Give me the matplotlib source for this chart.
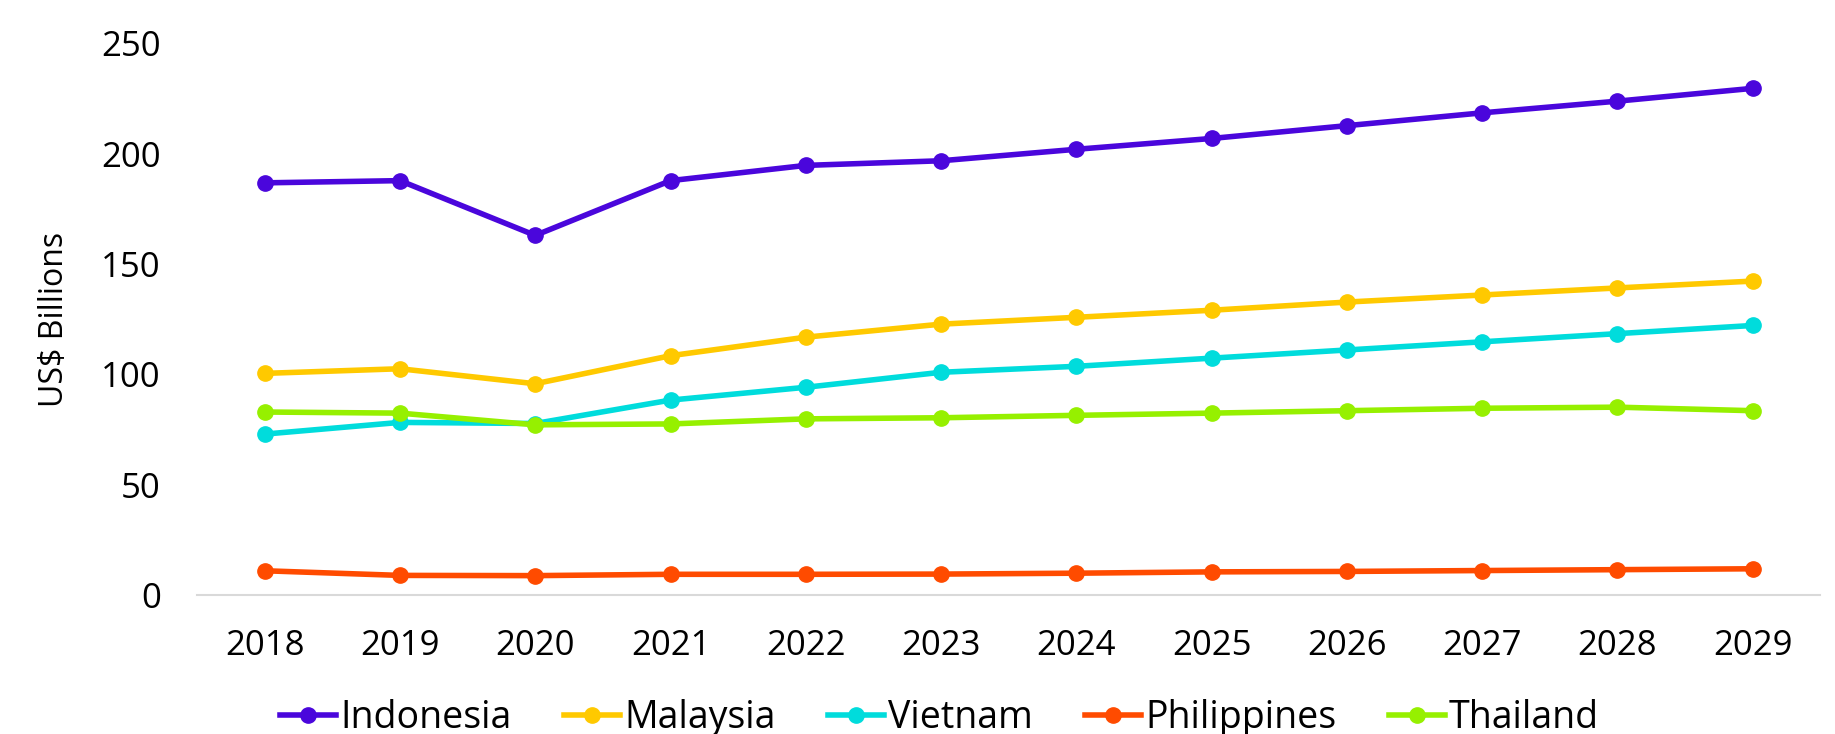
import matplotlib.pyplot as plt
import numpy as np

plt.rcParams['font.family'] = ['Open Sans', 'DejaVu Sans']

years = ['2018', '2019', '2020', '2021', '2022', '2023',
         '2024', '2025', '2026', '2027', '2028', '2029']

indonesia = [186.8, 187.8, 163.0, 187.8, 194.7, 196.8, 202.0, 206.9, 212.7, 218.5, 223.8, 229.6]
malaysia = [100.5, 102.6, 95.8, 108.5, 116.9, 122.8, 125.9, 129.1, 132.8, 136.0, 139.2, 142.3]
vietnam = [73.0, 78.3, 77.8, 88.4, 94.2, 101.0, 103.7, 107.4, 111.1, 114.8, 118.5, 122.2]
philippines = [11.1, 9.0, 8.9, 9.5, 9.5, 9.6, 10.0, 10.6, 10.8, 11.2, 11.6, 12.0]
thailand = [83.0, 82.5, 77.2, 77.6, 79.9, 80.4, 81.5, 82.5, 83.6, 84.7, 85.2, 83.6]

series = [
    ('Indonesia', indonesia, '#4a06dc'),
    ('Malaysia', malaysia, '#ffc900'),
    ('Vietnam', vietnam, '#00dcdc'),
    ('Philippines', philippines, '#ff4b00'),
    ('Thailand', thailand, '#96f000'),
]

fig = plt.figure(figsize=(18.35, 7.34), dpi=100)
ax = fig.add_axes([0.1074, 0.189, 0.8846, 0.752])

x = np.arange(len(years))
for name, vals, col in series:
    ax.plot(x, vals, color=col, lw=4, marker='o', markersize=11, label=name)

ax.set_xlim(-0.5, len(years) - 0.5)
ax.set_ylim(0, 250)
ax.set_yticks([0, 50, 100, 150, 200, 250])
ax.set_xticks(x)
ax.set_xticklabels(years)
ax.tick_params(axis='both', length=0, labelsize=25)
ax.tick_params(axis='y', pad=26)
ax.tick_params(axis='x', pad=24)
for s in ['top', 'right', 'left']:
    ax.spines[s].set_visible(False)
ax.spines['bottom'].set_color('#d9d9d9')
ax.spines['bottom'].set_linewidth(1.5)
ax.set_ylabel('US$ Billions', fontsize=23, labelpad=22)

# legend sits at the very bottom edge like the original
fig.legend(loc='center', bbox_to_anchor=(0.512, 0.022), ncol=5, frameon=False,
           fontsize=27, handlelength=1.5, handletextpad=0.1, columnspacing=1.4)

fig.savefig('out.png', dpi=100)
